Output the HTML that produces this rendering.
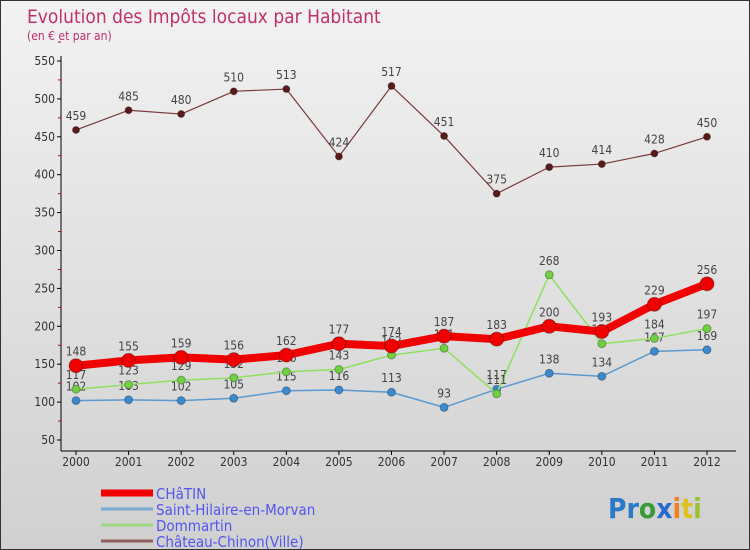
<!DOCTYPE html>
<html><head><meta charset="utf-8"><style>
body{margin:0}
#c{width:748px;height:548px;border:1px solid #333;background:linear-gradient(#f2f2f2,#d0d0d0);position:relative;font-family:"DejaVu Sans Condensed","Liberation Sans",sans-serif;overflow:hidden}
</style></head><body>
<div id="c">
<svg id="s" width="748" height="548" style="position:absolute;left:0;top:0">
<text x="26" y="22" font-size="19" fill="#c0306a">Evolution des Impôts locaux par Habitant</text>
<text x="26" y="39" font-size="12" fill="#c0306a">(en € et par an)</text>
<g id="g"></g>
<text x="607" y="517" font-size="28" font-weight="bold"><tspan fill="#2a7ac8">Pr</tspan><tspan fill="#3a9a3a">o</tspan><tspan fill="#2a6ad0">x</tspan><tspan fill="#f08020">i</tspan><tspan fill="#e0c020">t</tspan><tspan fill="#9ac030">i</tspan></text>
</svg>
</div>
<script>
const years=[2000,2001,2002,2003,2004,2005,2006,2007,2008,2009,2010,2011,2012];
const yTicks=[50,100,150,200,250,300,350,400,450,500,550];
const chatin=[148,155,159,156,162,177,174,187,183,200,193,229,256];
const sthilaire=[102,103,102,105,115,116,113,93,117,138,134,167,169];
const dommartin=[117,123,129,132,140,143,162,171,111,268,177,184,197];
const chateau=[459,485,480,510,513,424,517,451,375,410,414,428,450];
const NS='http://www.w3.org/2000/svg';
const g=document.getElementById('g');
const X=i=>75+i*(706-75)/12;
const Y=v=>439-(v-50)*379/500;
function el(t,a,p){const e=document.createElementNS(NS,t);for(const k in a)e.setAttribute(k,a[k]);(p||g).appendChild(e);return e;}
let ax=el('line',{x1:60,y1:55,x2:60,y2:450,stroke:'#000','stroke-width':1});


let bx=el('line',{x1:60,y1:450,x2:735,y2:450,stroke:'#000','stroke-width':1});


yTicks.forEach(v=>{
 const t=el('text',{x:54,y:Y(v)+4,'font-size':12,'text-anchor':'end',fill:'#333'});t.textContent=v;
 
 
 el('line',{x1:56,y1:Y(v),x2:60,y2:Y(v),stroke:'#000'});
 el('line',{x1:57,y1:Y(v+25),x2:60,y2:Y(v+25),stroke:'#c00'});
});
years.forEach((y,i)=>{
 const t=el('text',{x:X(i),y:465,'font-size':12,'text-anchor':'middle',fill:'#333'});t.textContent=y;
 
 
 el('line',{x1:X(i),y1:450,x2:X(i),y2:454,stroke:'#000'});
});
function series(d,color,w,r,name,dot){
 const grp=el('g',{});
 
 
 el('polyline',{points:d.map((v,i)=>X(i)+','+Y(v)).join(' '),fill:'none',stroke:color,'stroke-width':w,'stroke-linejoin':'round'},grp);
 d.forEach((v,i)=>{
  const c=el('circle',{cx:X(i),cy:Y(v),r:r,fill:dot,stroke:'rgba(0,0,0,0.3)'},grp);
  
  
  const t=el('text',{x:X(i),y:Y(v)-10,'font-size':12,'text-anchor':'middle',fill:'#444'},grp);t.textContent=v;
  
  
 });
}
series(chateau,'#7a3a3a',1.2,3.5,'chateau-chinon','#5a1a1a');
series(sthilaire,'#5a9ad0',1.5,4,'saint-hilaire','#3a8ad0');
series(dommartin,'#90e060',1.5,4,'dommartin','#70d040');
series(chatin,'#f00000',8,7,'chatin','#f00000');
const legend=[['CHâTIN','#f00000',7],['Saint-Hilaire-en-Morvan','#7aaad0',3],['Dommartin','#a0d880',3],['Château-Chinon(Ville)','#906060',3]];
legend.forEach((l,i)=>{
 const y=492+i*16;
 const ln=el('line',{x1:100,y1:y,x2:152,y2:y,stroke:l[1],'stroke-width':l[2]});
 
 
 const t=el('text',{x:155,y:y+6,'font-size':15,fill:'#5555ee'});t.textContent=l[0];
 
 
});
</script>
</body></html>
